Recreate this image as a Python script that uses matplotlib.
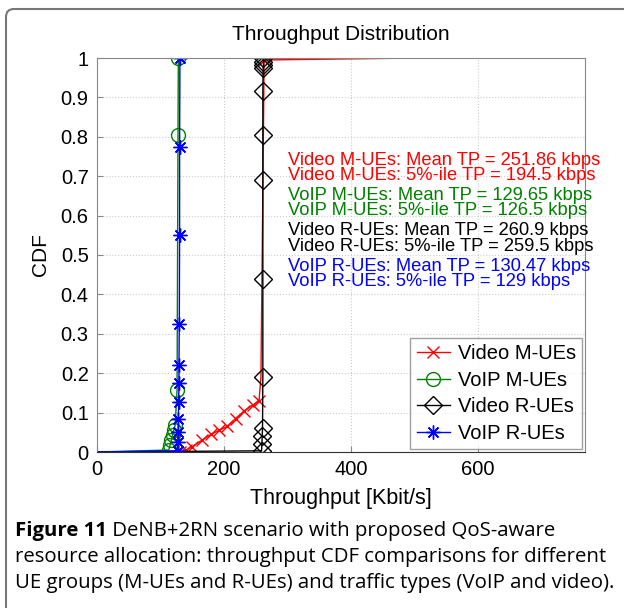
import matplotlib
matplotlib.use('Agg')
import matplotlib.pyplot as plt
from matplotlib.patches import FancyBboxPatch

# ---- data ----
video_m_tp = [0, 131, 140, 150, 165, 180, 192, 205, 218, 232, 246, 255, 258, 260, 263, 500]
video_m_cdf = [0, 0, 0.005, 0.013, 0.03, 0.045, 0.055, 0.065, 0.085, 0.105, 0.12, 0.13, 0.19, 0.5, 0.995, 1.0]
video_m_marks = [1, 2, 3, 4, 5, 6, 7, 8, 9, 10, 11, 14]

voip_m_tp = [0, 113, 115, 117, 119, 121, 123, 126, 127.5, 128, 500]
voip_m_cdf = [0, 0.005, 0.018, 0.03, 0.043, 0.056, 0.068, 0.157, 0.805, 1.0, 1.0]
voip_m_marks = [1, 2, 3, 4, 5, 6, 7, 8, 9]

video_r_tp = [0, 259, 259.5, 260, 260.5, 261, 261, 261, 261, 261, 261.5, 262, 262, 262, 500]
video_r_cdf = [0, 0.003, 0.021, 0.041, 0.062, 0.191, 0.44, 0.69, 0.805, 0.915, 0.974, 0.982, 0.991, 0.999, 1.0]
video_r_marks = list(range(1, 14))

voip_r_tp = [0, 127, 127.5, 128, 128, 128.5, 129, 129, 129.5, 130, 130, 130.5, 500]
voip_r_cdf = [0, 0.003, 0.026, 0.05, 0.085, 0.128, 0.174, 0.222, 0.325, 0.55, 0.775, 1.0, 1.0]
voip_r_marks = list(range(1, 12))

labels = ['Video M-UEs', 'VoIP M-UEs', 'Video R-UEs', 'VoIP R-UEs']
colors = ['#ff0000', '#008000', '#000000', '#0000ff']

stats_text = ['Video M-UEs: Mean TP = 251.86 kbps', 'Video M-UEs: 5%-ile TP = 194.5 kbps',
              'VoIP M-UEs: Mean TP = 129.65 kbps', 'VoIP M-UEs: 5%-ile TP = 126.5 kbps',
              'Video R-UEs: Mean TP = 260.9 kbps', 'Video R-UEs: 5%-ile TP = 259.5 kbps',
              'VoIP R-UEs: Mean TP = 130.47 kbps', 'VoIP R-UEs: 5%-ile TP = 129 kbps']
stats_y = [0.739, 0.703, 0.652, 0.614, 0.563, 0.521, 0.470, 0.432]
stats_colors = ['#ff0000', '#ff0000', '#008000', '#008000', '#000000', '#000000', '#0000ff', '#0000ff']

x_ticks = [0, 200, 400, 600]
y_ticks = [0, 0.1, 0.2, 0.3, 0.4, 0.5, 0.6, 0.7, 0.8, 0.9, 1]
y_ticklabels = ['0', '0.1', '0.2', '0.3', '0.4', '0.5', '0.6', '0.7', '0.8', '0.9', '1']

caption_bold = 'Figure 11'
caption_rest = [' DeNB+2RN scenario with proposed QoS-aware',
                'resource allocation: throughput CDF comparisons for different',
                'UE groups (M-UEs and R-UEs) and traffic types (VoIP and video).']

plt.rcParams['font.family'] = ['Liberation Sans', 'DejaVu Sans']

W, H = 624, 608
fig = plt.figure(figsize=(W / 100, H / 100), dpi=100)
ax = fig.add_axes([97 / W, 1 - 452 / H, (585 - 97) / W, (452 - 58) / H])

asterisk = (8, 2, 0)
ax.plot(video_m_tp, video_m_cdf, color=colors[0], lw=1, marker='x', ms=9, mew=1,
        markevery=video_m_marks, label=labels[0])
ax.plot(voip_m_tp, voip_m_cdf, color=colors[1], lw=1, marker='o', ms=10, mew=1, mfc='none',
        markevery=voip_m_marks, label=labels[1])
ax.plot(video_r_tp, video_r_cdf, color=colors[2], lw=1, marker='D', ms=9, mew=1, mfc='none',
        markevery=video_r_marks, label=labels[2])
ax.plot(voip_r_tp, voip_r_cdf, color=colors[3], lw=1, marker=asterisk, ms=10, mew=1,
        markevery=voip_r_marks, label=labels[3])

for t, yy, c in zip(stats_text, stats_y, stats_colors):
    ax.text(300, yy, t, color=c, fontsize=13.2, va='center', ha='left')

ax.set_xlim(0, 768)
ax.set_ylim(0, 1)
ax.set_xticks(x_ticks)
ax.set_yticks(y_ticks)
ax.set_yticklabels(y_ticklabels)
ax.tick_params(direction='in', length=4, color='#888888', labelsize=14.5, pad=6)
ax.grid(True, linestyle=':', color='#cccccc', lw=0.8)
for s in ax.spines.values():
    s.set_color('#888888')
ax.spines['bottom'].set_color('#333333')

ax.set_title('Throughput Distribution', fontsize=15, pad=13)
ax.set_xlabel('Throughput [Kbit/s]', fontsize=15.5, labelpad=6)
ax.set_ylabel('CDF', fontsize=15, labelpad=8)

leg = ax.legend(loc='lower right', fontsize=14.5, frameon=True, fancybox=False,
                edgecolor='#888888', handlelength=1.65, borderpad=0.3, labelspacing=0.38,
                handletextpad=0.4, borderaxespad=0.15)
leg.get_frame().set_linewidth(1)

# figure frame
frame = FancyBboxPatch((6, -40), W + 40, H - 9 + 40, boxstyle='round,pad=0,rounding_size=8',
                       transform=None, fill=False, edgecolor='#777777', lw=1.5)
fig.patches.append(frame)

# caption
cap_font = ['Open Sans', 'DejaVu Sans']
cap_size = 14.7
fig.canvas.draw()
r = fig.canvas.get_renderer()
tb = fig.text(15 / W, 1 - 531 / H, caption_bold, fontsize=cap_size, fontweight='bold',
              family=cap_font, va='center', ha='left')
ext = tb.get_window_extent(r)
fig.text(ext.x1 / W, 1 - 531 / H, caption_rest[0], fontsize=cap_size, family=cap_font,
         va='center', ha='left')
fig.text(15 / W, 1 - 557 / H, caption_rest[1], fontsize=cap_size, family=cap_font,
         va='center', ha='left')
fig.text(15 / W, 1 - 583 / H, caption_rest[2], fontsize=cap_size, family=cap_font,
         va='center', ha='left')

fig.savefig('out.png', dpi=100)
